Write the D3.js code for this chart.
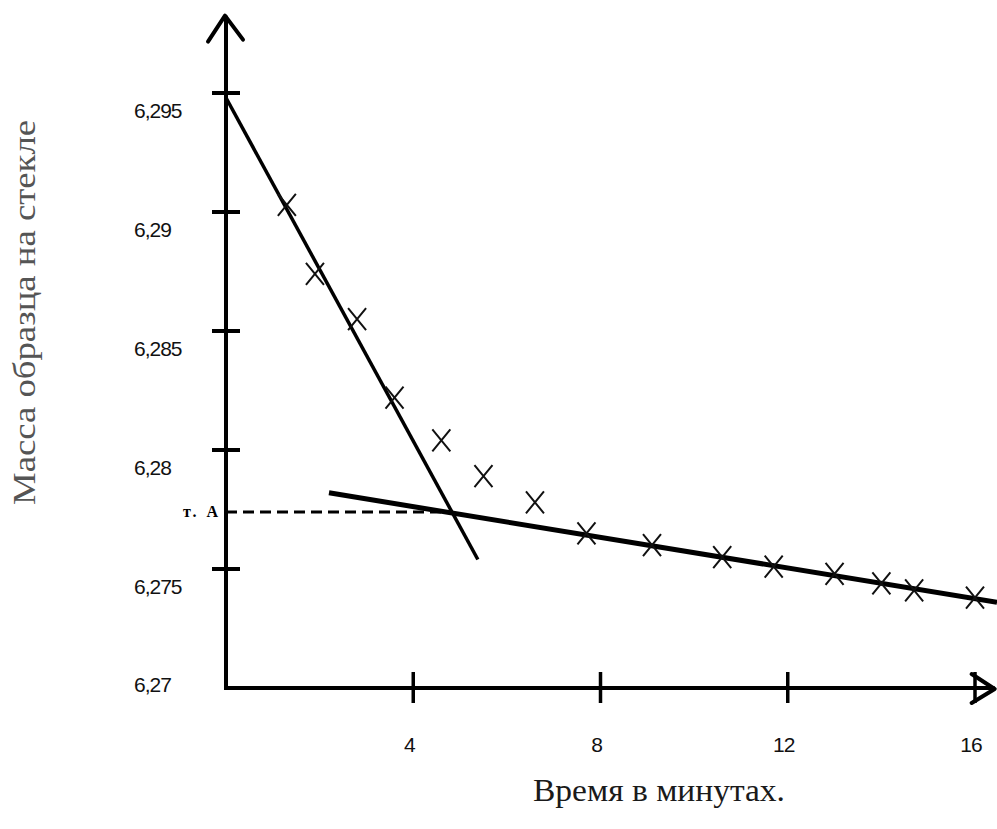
<!DOCTYPE html>
<html>
<head>
<meta charset="utf-8">
<script src="https://cdn.jsdelivr.net/npm/d3@7"></script>
<style>
  html, body { margin: 0; padding: 0; background: #fff; }
  svg { display: block; }
</style>
</head>
<body>
<svg id="chart" width="997" height="829"></svg>
<script>
// Measured sample mass on the glass over time
const times  = [1.3, 1.9, 2.8, 3.6, 4.6, 5.5, 6.6, 7.7, 9.1, 10.6, 11.7, 13.0, 14.0, 14.7, 16.0];
const masses = [6.2903, 6.2874, 6.2855, 6.2822, 6.2804, 6.2789, 6.2778, 6.2765, 6.2760,
                6.2755, 6.2751, 6.2748, 6.2744, 6.2741, 6.2738];

// Two straight fits: fast initial loss and slow later loss
const steepFitT   = [0, 5.38];
const steepFitM   = [6.2948, 6.2754];
const shallowFitT = [2.2, 16.47];
const shallowFitM = [6.2782, 6.2736];

// Intersection "т. А"
const pointAT = 4.83;
const pointAM = 6.2774;
const pointALabel = "т. А";

// Axis ticks
const xTickValues = [4, 8, 12, 16];
const xTickLabels = ["4", "8", "12", "16"];
const yTickValues = [6.27, 6.275, 6.28, 6.285, 6.29, 6.295];
const yTickLabels = ["6,27", "6,275", "6,28", "6,285", "6,29", "6,295"];

const xTitle = "Время в минутах.";
const yTitle = "Масса образца на стекле";

const svg = d3.select("#chart");
svg.append("rect").attr("width", 997).attr("height", 829).attr("fill", "#fff");

const x = d3.scaleLinear().domain([0, 16]).range([226, 975]);
const y = d3.scaleLinear().domain([6.27, 6.295]).range([688, 93]);

const xEnd = 16.42;     // where the time axis ends (arrow tip)
const yEnd = 6.29825;   // where the mass axis ends (arrow tip)

const ink = "#000";
const sans = "'Liberation Sans', Arial, sans-serif";
const serif = "'Liberation Serif', 'Times New Roman', serif";

// Axes lines
svg.append("line")
  .attr("x1", x(0)).attr("y1", y(6.27) + 2)
  .attr("x2", x(0)).attr("y2", y(yEnd))
  .attr("stroke", ink).attr("stroke-width", 4);
svg.append("line")
  .attr("x1", x(0) - 2).attr("y1", y(6.27))
  .attr("x2", x(xEnd)).attr("y2", y(6.27))
  .attr("stroke", ink).attr("stroke-width", 4);

// Arrow heads (open chevrons)
svg.append("path")
  .attr("d", `M${x(0) - 18},${y(yEnd) + 26} L${x(0) - 1},${y(yEnd)} L${x(0) + 17},${y(yEnd) + 24}`)
  .attr("fill", "none").attr("stroke", ink).attr("stroke-width", 4)
  .attr("stroke-linecap", "round").attr("stroke-linejoin", "round");
svg.append("path")
  .attr("d", `M${x(xEnd) - 23},${y(6.27) - 14} L${x(xEnd)},${y(6.27) + 1} L${x(xEnd) - 23},${y(6.27) + 15}`)
  .attr("fill", "none").attr("stroke", ink).attr("stroke-width", 4)
  .attr("stroke-linecap", "round").attr("stroke-linejoin", "round");

// Y ticks (crossing the axis)
svg.append("g").selectAll("line")
  .data(yTickValues.filter(v => v !== 6.27))
  .join("line")
  .attr("x1", x(0) - 14).attr("x2", x(0) + 14)
  .attr("y1", d => y(d)).attr("y2", d => y(d))
  .attr("stroke", ink).attr("stroke-width", 4);

// X ticks
svg.append("g").selectAll("line")
  .data(xTickValues)
  .join("line")
  .attr("x1", d => x(d)).attr("x2", d => x(d))
  .attr("y1", y(6.27) - 16).attr("y2", y(6.27) + 15)
  .attr("stroke", ink).attr("stroke-width", 3.5);

// Y tick labels
svg.append("g").selectAll("text")
  .data(yTickValues)
  .join("text")
  .attr("x", 134)
  .attr("y", d => d === 6.27 ? y(d) + 4 : y(d) + 25)
  .attr("font-family", sans)
  .attr("font-size", 21)
  .attr("letter-spacing", -1)
  .attr("fill", "#111")
  .text((d, i) => yTickLabels[i]);

// X tick labels
svg.append("g").selectAll("text")
  .data(xTickValues)
  .join("text")
  .attr("x", d => x(d) - 4)
  .attr("y", y(6.27) + 64)
  .attr("text-anchor", "middle")
  .attr("font-family", sans)
  .attr("font-size", 21)
  .attr("letter-spacing", -1)
  .attr("fill", "#111")
  .text((d, i) => xTickLabels[i]);

// Dashed guide from the mass axis to point A
svg.append("line")
  .attr("x1", x(0)).attr("y1", y(pointAM))
  .attr("x2", x(pointAT)).attr("y2", y(pointAM))
  .attr("stroke", ink).attr("stroke-width", 3)
  .attr("stroke-dasharray", "11,6");

svg.append("text")
  .attr("x", 183).attr("y", y(pointAM) + 5)
  .attr("font-family", serif)
  .attr("font-weight", "bold")
  .attr("font-size", 16)
  .attr("textLength", 35)
  .attr("lengthAdjust", "spacing")
  .attr("fill", ink)
  .text(pointALabel);

// Fit lines
const fitLine = d3.line().x(d => x(d[0])).y(d => y(d[1]));
svg.append("path")
  .datum(steepFitT.map((t, i) => [t, steepFitM[i]]))
  .attr("d", fitLine)
  .attr("fill", "none").attr("stroke", ink).attr("stroke-width", 3.5);
svg.append("path")
  .datum(shallowFitT.map((t, i) => [t, shallowFitM[i]]))
  .attr("d", fitLine)
  .attr("fill", "none").attr("stroke", ink).attr("stroke-width", 5);

// Cross markers for measured points
const cross = "M-9,-11 L9,11 M9,-11 L-9,11";
svg.append("g").selectAll("path")
  .data(times.map((t, i) => [t, masses[i]]))
  .join("path")
  .attr("transform", d => `translate(${x(d[0])},${y(d[1])})`)
  .attr("d", cross)
  .attr("fill", "none").attr("stroke", "#111").attr("stroke-width", 2);

// Axis titles
svg.append("text")
  .attr("x", 533).attr("y", 801)
  .attr("font-family", serif)
  .attr("font-size", 31)
  .attr("textLength", 252)
  .attr("lengthAdjust", "spacingAndGlyphs")
  .attr("fill", "#1a1a1a")
  .text(xTitle);

svg.append("text")
  .attr("transform", "translate(35,505) rotate(-90)")
  .attr("font-family", serif)
  .attr("font-size", 32)
  .attr("textLength", 385)
  .attr("lengthAdjust", "spacingAndGlyphs")
  .attr("fill", "#555")
  .text(yTitle);
</script>
</body>
</html>
